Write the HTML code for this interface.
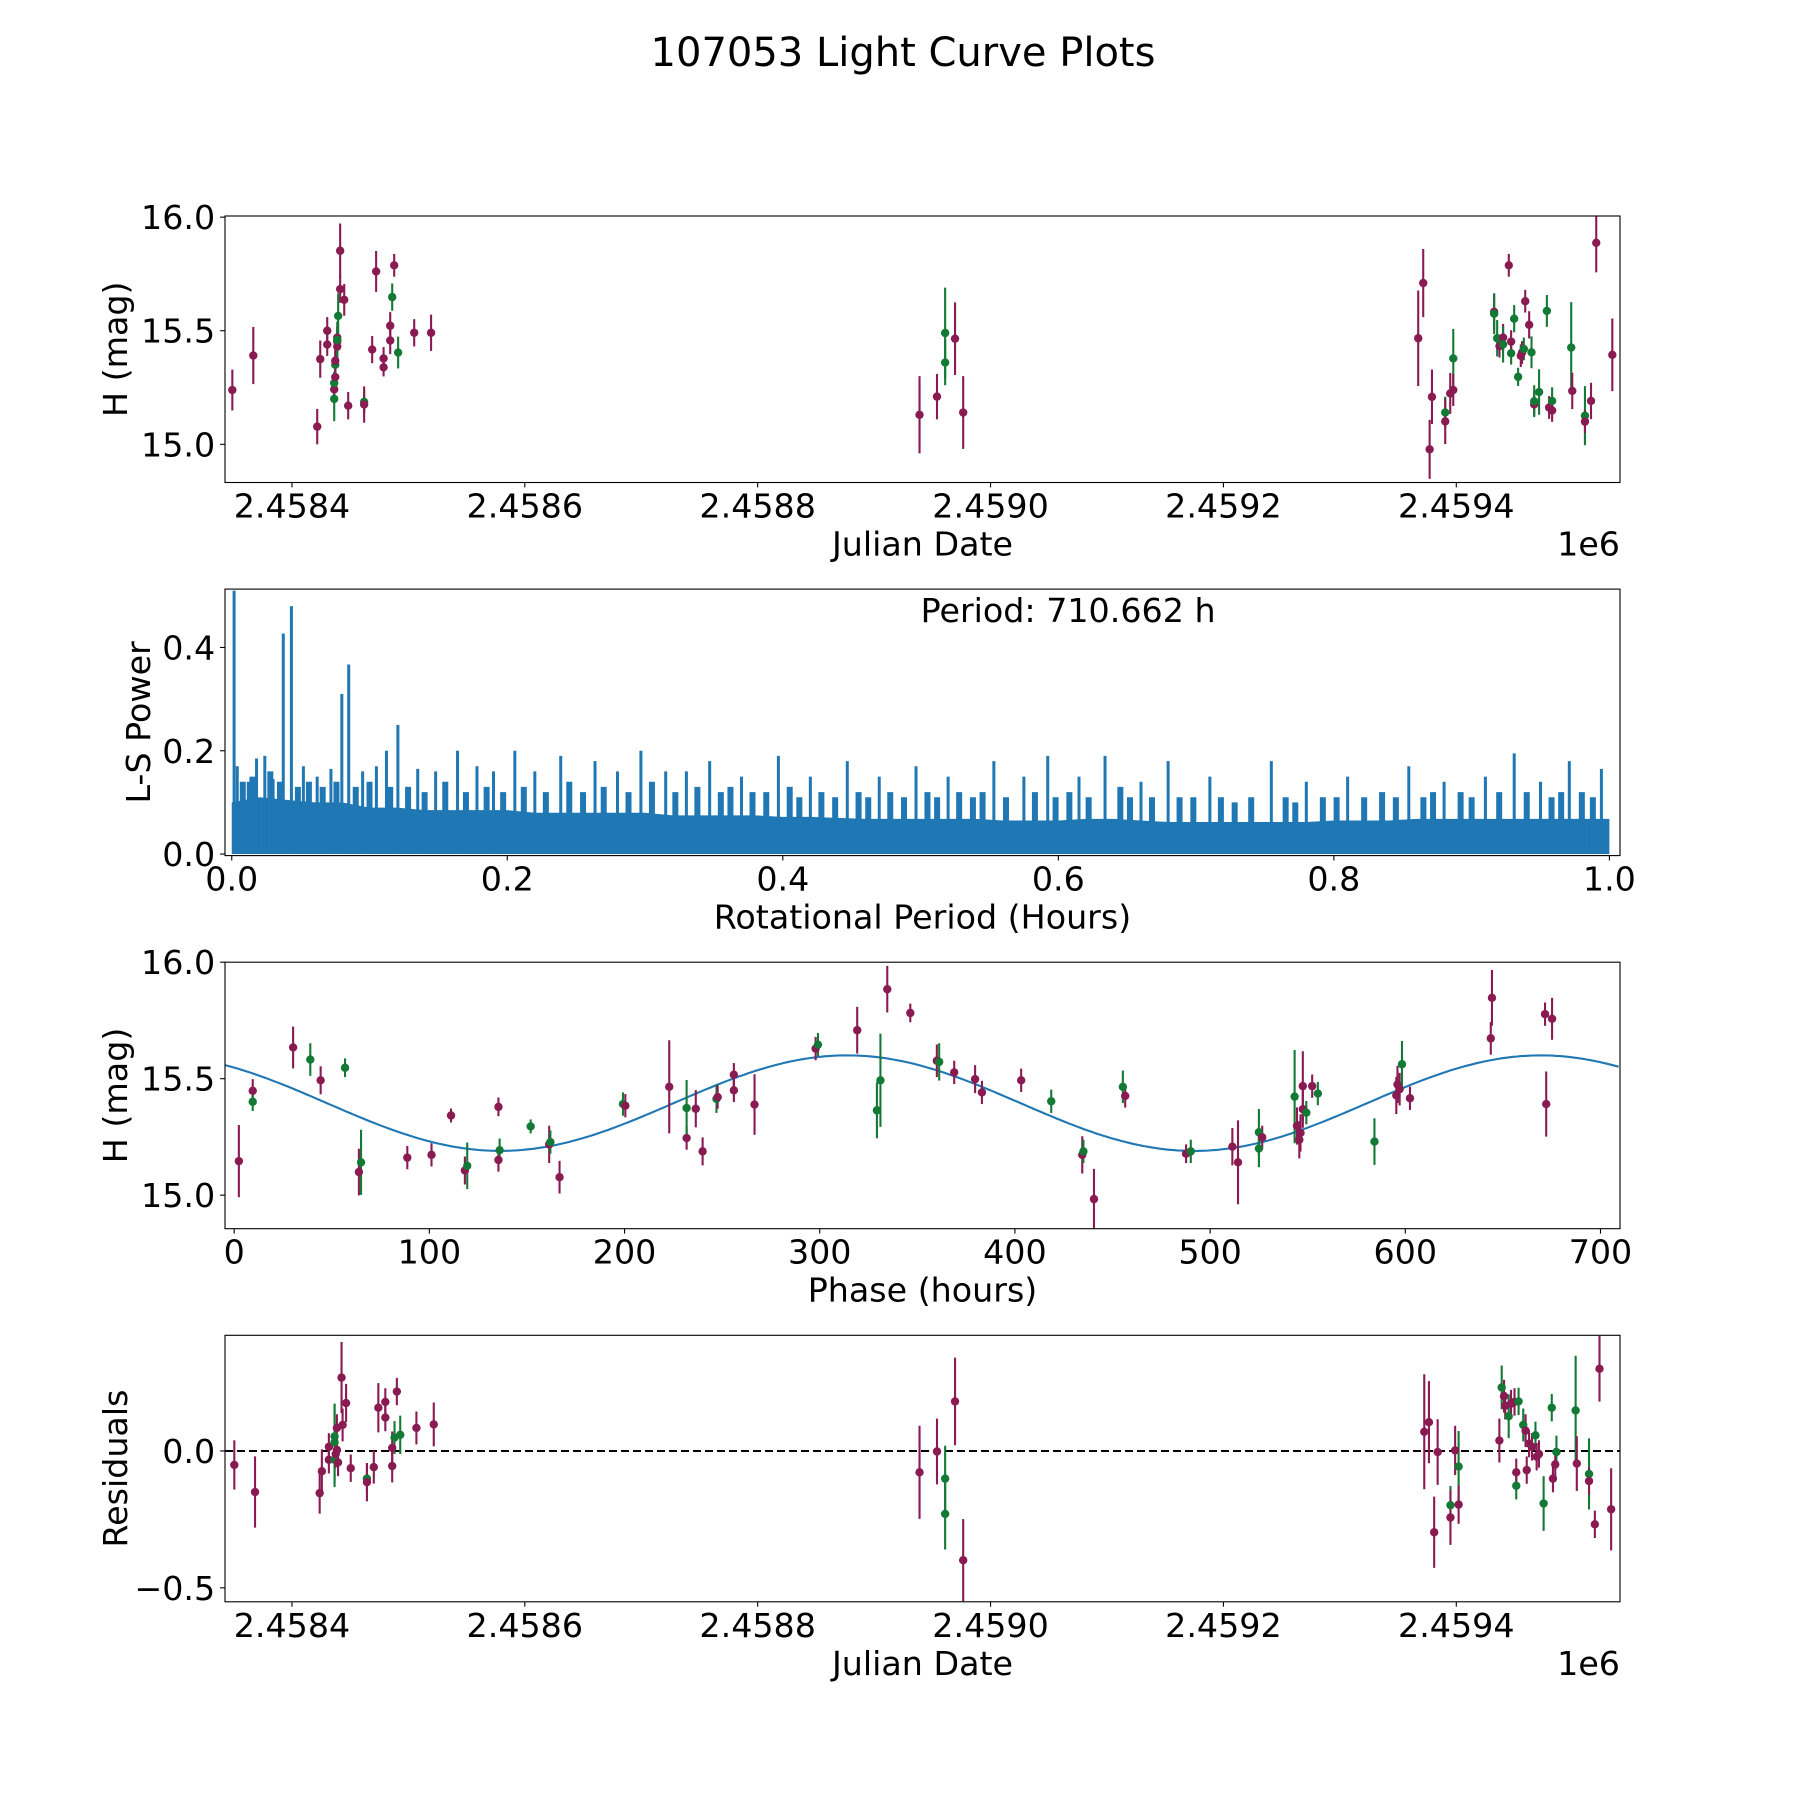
<!DOCTYPE html>
<html><head><meta charset="utf-8"><title>107053 Light Curve Plots</title>
<style>
html,body{margin:0;padding:0;background:#fff;}
svg{display:block;font-family:"DejaVu Sans","Liberation Sans",sans-serif;}
</style></head>
<body>
<svg id="fig" width="1800" height="1800" viewBox="0 0 1800 1800" xmlns="http://www.w3.org/2000/svg">
<rect x="0" y="0" width="1800" height="1800" fill="#fff"/>
<text x="903" y="66" font-size="40" text-anchor="middle">107053 Light Curve Plots</text>
</svg>
<script>
// ---------- Panel 1: light curve vs Julian Date ----------
const jd1 = [2458348.8,2458366.8,2458421.7,2458424.3,2458430.3,2458430.3,2458436.3,2458436.3,2458436.3,2458437.2,2458437.2,2458437.2,2458438.9,2458438.9,2458438.9,2458438.9,2458439.7,2458441.4,2458441.4,2458444.9,2458448.3,2458462,2458462,2458468.9,2458472.3,2458478.7,2458478.7,2458484.4,2458484.4,2458486.1,2458487.8,2458491.2,2458505,2458519.5,
 2458939,2458954,2458961,2458961,2458969.5,2458976.5,
 2459367.3,2459371.6,2459377.1,2459379.1,2459390.5,2459390.5,2459394.8,2459397.4,2459397.4,2459432.5,2459432.5,2459435.1,2459437.1,2459440.2,2459440.2,2459445.1,2459447.1,2459447.1,2459449.7,2459453.1,2459455.4,2459456.5,2459458,2459459.2,2459462.6,2459464.6,2459466.9,2459466.9,2459471.1,2459477.8,2459479.7,2459482.3,2459482.3,2459498.7,2459499.6,2459510.5,2459510.5,2459515.7,2459520.2,2459534];
const mag1 = [15.239,15.391,15.078,15.375,15.5,15.439,15.2,15.242,15.27,15.296,15.35,15.368,15.43,15.452,15.47,15.46,15.565,15.852,15.683,15.636,15.17,15.187,15.175,15.417,15.761,15.339,15.378,15.457,15.522,15.648,15.788,15.404,15.491,15.491,
 15.13,15.21,15.36,15.49,15.465,15.14,
 15.467,15.71,14.978,15.209,15.14,15.101,15.224,15.378,15.239,15.583,15.575,15.467,15.432,15.47,15.44,15.788,15.401,15.452,15.553,15.297,15.39,15.404,15.42,15.63,15.526,15.405,15.176,15.19,15.23,15.587,15.162,15.191,15.149,15.426,15.235,15.126,15.1,15.191,15.887,15.394];
const err1 = [0.09,0.126,0.078,0.082,0.06,0.05,0.098,0.05,0.05,0.05,0.06,0.05,0.05,0.05,0.05,0.08,0.1,0.12,0.06,0.07,0.06,0.05,0.08,0.06,0.09,0.04,0.05,0.06,0.06,0.06,0.05,0.07,0.06,0.08,
 0.17,0.1,0.1,0.2,0.16,0.16,
 0.21,0.15,0.13,0.12,0.07,0.1,0.09,0.13,0.07,0.08,0.09,0.08,0.05,0.06,0.08,0.05,0.05,0.05,0.06,0.04,0.05,0.05,0.05,0.05,0.06,0.07,0.05,0.07,0.1,0.07,0.05,0.06,0.05,0.2,0.08,0.13,0.05,0.08,0.13,0.16];
const flt1 = [0,0,0,0,0,0,1,0,1,0,1,0,0,0,0,1,1,0,0,0,0,1,0,0,0,0,0,0,0,1,0,1,0,0,
 0,0,1,1,0,0,
 0,0,0,0,1,0,0,1,0,0,1,1,0,0,1,0,1,0,1,1,0,0,1,0,0,1,0,1,1,1,0,1,0,1,0,1,0,0,0,0];

// ---------- Panel 2: Lomb-Scargle periodogram ----------
const lsEnvPeriod = [0,0.02,0.04,0.06,0.08,0.10,0.12,0.14,0.16,0.18,0.20,0.22,0.24,0.26,0.28,0.30,0.32,0.34,0.36,0.38,0.40,0.42,0.44,0.46,0.48,0.50,0.52,0.54,0.56,0.58,0.60,0.62,0.64,0.66,0.68,0.70,0.72,0.74,0.76,0.78,0.80,0.82,0.84,0.86,0.88,0.90,0.92,0.94,0.96,0.98,1.00];
const lsEnvPower = [0.1,0.11,0.105,0.1,0.1,0.09,0.09,0.085,0.085,0.085,0.085,0.08,0.08,0.08,0.08,0.08,0.075,0.075,0.075,0.075,0.072,0.072,0.07,0.068,0.068,0.068,0.068,0.068,0.065,0.065,0.065,0.068,0.068,0.065,0.062,0.062,0.062,0.062,0.062,0.062,0.065,0.065,0.065,0.068,0.068,0.068,0.068,0.068,0.068,0.068,0.068];
const spikePeriod = [0.0017,0.004,0.012,0.018,0.024,0.03,0.0374,0.0433,0.052,0.062,0.072,0.0799,0.0849,0.095,0.105,0.1123,0.1206,0.135,0.148,0.1639,0.178,0.19,0.2055,0.22,0.2388,0.2637,0.28,0.297,0.315,0.33,0.3469,0.37,0.3968,0.42,0.4468,0.47,0.4967,0.52,0.5532,0.575,0.5923,0.615,0.6339,0.66,0.6797,0.71,0.7546,0.78,0.81,0.8544,0.88,0.91,0.9309,0.95,0.9709,0.9942];
const spikePower = [0.51,0.17,0.14,0.185,0.19,0.145,0.427,0.48,0.17,0.15,0.165,0.31,0.367,0.16,0.17,0.2,0.25,0.165,0.16,0.2,0.17,0.16,0.2,0.16,0.19,0.18,0.16,0.2,0.16,0.16,0.18,0.15,0.19,0.15,0.18,0.15,0.17,0.15,0.18,0.15,0.19,0.15,0.19,0.14,0.18,0.15,0.18,0.14,0.15,0.17,0.14,0.15,0.195,0.14,0.18,0.165];
const midPeriod = [0.008,0.015,0.028,0.035,0.048,0.056,0.066,0.076,0.09,0.1,0.115,0.128,0.14,0.155,0.17,0.185,0.197,0.212,0.228,0.245,0.255,0.27,0.288,0.305,0.322,0.338,0.355,0.362,0.378,0.388,0.405,0.412,0.428,0.438,0.455,0.462,0.478,0.488,0.505,0.512,0.528,0.538,0.545,0.562,0.583,0.598,0.608,0.622,0.645,0.652,0.668,0.688,0.698,0.718,0.728,0.74,0.765,0.772,0.792,0.802,0.822,0.835,0.845,0.865,0.872,0.892,0.9,0.92,0.94,0.958,0.965,0.98,0.988];
const midPower = [0.14,0.15,0.16,0.14,0.13,0.14,0.13,0.14,0.13,0.14,0.13,0.13,0.12,0.14,0.12,0.13,0.12,0.13,0.12,0.14,0.12,0.13,0.12,0.14,0.12,0.13,0.12,0.13,0.12,0.12,0.13,0.11,0.12,0.11,0.12,0.11,0.12,0.11,0.12,0.11,0.12,0.11,0.12,0.11,0.12,0.11,0.12,0.11,0.13,0.11,0.11,0.11,0.11,0.11,0.1,0.11,0.11,0.1,0.11,0.11,0.11,0.12,0.11,0.11,0.12,0.12,0.11,0.12,0.12,0.11,0.12,0.12,0.11];
const periodText = "Period: 710.662 h";

// ---------- Panel 3: phase-folded ----------
const phase3 = [2.4,9.5,9.5,30.2,39,44.3,56.8,63.9,65,88.7,101.1,111.1,118.2,119.4,135.4,135.4,136,151.9,161.4,162,166.7,199.2,200.4,222.9,231.8,231.8,236.5,240,247.1,247.7,256,256,266.6,297.9,299.1,319.2,329.3,331.1,334.6,346.4,360,361.2,368.9,379.6,383.1,403.2,418.6,434.5,435.1,440.5,455.3,456.5,487.7,490.1,511.4,514.3,525,525,526.7,543.3,544.5,545.7,546.3,547.5,547.5,549.3,552.3,555.2,584.2,595.4,596,597.1,598.3,602.4,643.8,644.4,671.6,672.2,675.2];
const mag3 = [15.146,15.448,15.401,15.634,15.582,15.493,15.547,15.099,15.141,15.161,15.173,15.342,15.106,15.126,15.379,15.151,15.193,15.295,15.218,15.228,15.077,15.391,15.384,15.465,15.245,15.374,15.371,15.188,15.413,15.421,15.45,15.517,15.389,15.629,15.646,15.708,15.364,15.493,15.884,15.782,15.577,15.572,15.527,15.498,15.441,15.493,15.403,15.173,15.188,14.983,15.465,15.426,15.178,15.188,15.208,15.141,15.2,15.27,15.248,15.423,15.297,15.238,15.267,15.468,15.369,15.354,15.468,15.436,15.23,15.428,15.475,15.455,15.562,15.416,15.673,15.847,15.777,15.391,15.757];
const err3 = [0.155,0.05,0.04,0.09,0.07,0.06,0.04,0.1,0.14,0.05,0.05,0.03,0.06,0.1,0.04,0.05,0.05,0.03,0.08,0.05,0.07,0.05,0.05,0.2,0.05,0.12,0.08,0.06,0.06,0.05,0.05,0.05,0.13,0.05,0.05,0.1,0.12,0.2,0.1,0.04,0.07,0.08,0.05,0.06,0.05,0.05,0.05,0.08,0.05,0.13,0.07,0.05,0.04,0.05,0.08,0.18,0.08,0.1,0.05,0.2,0.08,0.08,0.08,0.15,0.08,0.05,0.05,0.05,0.1,0.08,0.08,0.07,0.1,0.05,0.07,0.12,0.05,0.14,0.09];
const flt3 = [0,0,1,0,1,0,1,0,1,0,0,0,0,1,0,0,1,1,0,1,0,1,0,0,0,1,0,0,1,0,0,0,0,0,1,0,1,1,0,0,0,1,0,0,0,0,1,0,1,0,1,0,0,1,0,0,1,1,0,1,0,0,0,0,0,1,0,1,1,0,0,0,1,0,0,0,0,0,0];
const fitMean = 15.395, fitAmp = 0.205, fitPeak = 314, fitPeriod = 355.33;

// ---------- Panel 4: residuals ----------
const jd4 = [2458350.5,2458368.3,2458423.8,2458425.7,2458431.7,2458431.7,2458436.6,2458436.6,2458436.6,2458437.6,2458438.6,2458438.6,2458439.6,2458442.6,2458443.5,2458446.5,2458450.5,2458464.4,2458464.4,2458470.3,2458474.2,2458480.2,2458480.2,2458486.1,2458486.1,2458488.1,2458490.1,2458493,2458506.9,2458521.8,
 2458939,2458954,2458961,2458961,2458969.5,2458976.5,
 2459372.5,2459376.5,2459381,2459384,2459395,2459395,2459399,2459402,2459402,2459437,2459439,2459441,2459442,2459445,2459447,2459450,2459451.5,2459451.5,2459453.5,2459457.5,2459459.5,2459460.5,2459462.5,2459465,2459468,2459469,2459471,2459475,2459483,2459482,2459486,2459485,2459502.5,2459503.5,2459514,2459514,2459519,2459523,2459533];
const res4 = [-0.051,-0.15,-0.154,-0.074,0.015,-0.032,-0.032,0.032,0.053,-0.011,0.084,0.004,-0.042,0.268,0.095,0.175,-0.063,-0.101,-0.114,-0.059,0.158,0.179,0.122,0.011,-0.055,0.049,0.217,0.059,0.084,0.097,
 -0.078,-0.002,-0.101,-0.23,0.181,-0.399,
 0.07,0.105,-0.297,-0.004,-0.198,-0.243,0.002,-0.057,-0.196,0.038,0.232,0.2,0.165,0.127,0.173,0.179,-0.127,-0.078,0.181,0.095,0.074,-0.07,0.027,0.015,0.057,-0.021,-0.011,-0.192,-0.101,0.158,-0.004,-0.049,0.148,-0.046,-0.084,-0.11,-0.268,0.3,-0.213];
const err4 = [0.09,0.13,0.075,0.08,0.05,0.05,0.1,0.14,0.12,0.05,0.05,0.05,0.05,0.13,0.06,0.07,0.05,0.05,0.07,0.06,0.09,0.05,0.05,0.06,0.06,0.06,0.05,0.07,0.06,0.08,
 0.17,0.12,0.12,0.13,0.16,0.15,
 0.21,0.15,0.13,0.12,0.07,0.1,0.09,0.13,0.07,0.08,0.08,0.06,0.05,0.08,0.05,0.05,0.05,0.05,0.05,0.06,0.06,0.05,0.05,0.05,0.05,0.05,0.05,0.1,0.05,0.05,0.06,0.06,0.2,0.1,0.13,0.05,0.05,0.12,0.15];
const flt4 = [0,0,0,0,0,0,1,1,1,0,0,0,0,0,0,0,0,1,0,0,0,0,0,0,0,1,0,1,0,0,
 0,0,1,1,0,0,
 0,0,0,0,1,0,0,1,0,0,1,0,0,1,0,0,1,0,1,1,0,0,0,0,1,0,0,1,0,1,1,0,1,0,1,0,0,0,0];

const jdTicks = [2458400,2458600,2458800,2459000,2459200,2459400];
const jdTickLabels = ["2.4584","2.4586","2.4588","2.4590","2.4592","2.4594"];
const magTicks = [15.0,15.5,16.0];
const magTickLabels = ["15.0","15.5","16.0"];
const lsYTicks = [0,0.2,0.4];
const lsYTickLabels = ["0.0","0.2","0.4"];
const lsXTicks = [0,0.2,0.4,0.6,0.8,1.0];
const lsXTickLabels = ["0.0","0.2","0.4","0.6","0.8","1.0"];
const phaseTicks = [0,100,200,300,400,500,600,700];
const phaseTickLabels = ["0","100","200","300","400","500","600","700"];
const resTicks = [-0.5,0.0];
const resTickLabels = ["\u22120.5","0.0"];

const NS = "http://www.w3.org/2000/svg";
const svg = document.getElementById('fig');
const MAG = "#8a1a52", GRN = "#137a35", BLUE = "#1f77b4";
const X0 = 225, X1 = 1620, H = 266.5, FS = 33.3;
function tops(k){ return 216 + k*373.1; }
function el(tag, attrs, parent){ const e = document.createElementNS(NS, tag); for (const k in attrs) e.setAttribute(k, attrs[k]); (parent||svg).appendChild(e); return e; }
function lin(d0,d1,r0,r1){ return v => r0 + (v-d0)/(d1-d0)*(r1-r0); }

function makeAxes(k, name, xd, yd){
  const top = tops(k), bot = top + H;
  const g = el('g', {});
  
  
  const cp = el('clipPath', {id: 'clip'+k}, g);
  el('rect', {x:X0, y:top, width:X1-X0, height:H}, cp);
  const plot = el('g', {'clip-path':'url(#clip'+k+')'}, g);
  
  
  return {g, plot, top, bot, sx: lin(xd[0],xd[1],X0,X1), sy: lin(yd[0],yd[1],bot,top)};
}
function frame(ax, k){
  const r = el('rect', {x:X0, y:ax.top, width:X1-X0, height:H, fill:'none', stroke:'#000', 'stroke-width':1.1}, ax.g);
  
  
}
function xTicks(ax, vals, labels, name){
  vals.forEach((v,i) => {
    const x = ax.sx(v);
    const t = el('line', {x1:x, x2:x, y1:ax.bot, y2:ax.bot+4.9, stroke:'#000', 'stroke-width':1.1}, ax.g);
    
    
    const tx = el('text', {x:x, y:ax.bot+35, 'font-size':FS, 'text-anchor':'middle'}, ax.g);
    tx.textContent = labels[i];
    
    
  });
}
function yTicks(ax, vals, labels, name){
  vals.forEach((v,i) => {
    const y = ax.sy(v);
    const t = el('line', {x1:X0-4.9, x2:X0, y1:y, y2:y, stroke:'#000', 'stroke-width':1.1}, ax.g);
    
    
    const tx = el('text', {x:X0-9.8, y:y+12, 'font-size':FS, 'text-anchor':'end'}, ax.g);
    tx.textContent = labels[i];
    
    
  });
}
function xLabel(ax, txt, name){
  const t = el('text', {x:(X0+X1)/2, y:ax.bot+73, 'font-size':FS, 'text-anchor':'middle'}, ax.g);
  t.textContent = txt;
  
  
}
function yLabel(ax, txt, bx, name){
  const cy = (ax.top+ax.bot)/2;
  const t = el('text', {x:bx, y:cy, 'font-size':FS, 'text-anchor':'middle', transform:'rotate(-90 '+bx+' '+cy+')'}, ax.g);
  t.textContent = txt;
  
  
}
function offsetText(ax, name){
  const t = el('text', {x:X1, y:ax.bot+73, 'font-size':FS, 'text-anchor':'end'}, ax.g);
  t.textContent = '1e6';
  
  
}
function errPoints(ax, xs, ys, es, fs, name){
  xs.forEach((xv,i) => {
    const x = ax.sx(xv), c = fs[i] ? GRN : MAG;
    const l = el('line', {x1:x, x2:x, y1:ax.sy(ys[i]-es[i]), y2:ax.sy(ys[i]+es[i]), stroke:c, 'stroke-width':2.1}, ax.plot);
    
    
  });
  xs.forEach((xv,i) => {
    const c = fs[i] ? GRN : MAG;
    const p = el('circle', {cx:ax.sx(xv), cy:ax.sy(ys[i]), r:4.2, fill:c}, ax.plot);
    
    
  });
}

// Panel 1
const a1 = makeAxes(0, 'light-curve-panel', [2458342.5, 2459540.6], [14.832, 16.005]);
errPoints(a1, jd1, mag1, err1, flt1, 'observation');
frame(a1, 0);
xTicks(a1, jdTicks, jdTickLabels, 'julian-date-x');
yTicks(a1, magTicks, magTickLabels, 'magnitude-y');
xLabel(a1, 'Julian Date', 'x-axis-title-julian-date');
offsetText(a1, 'x-axis-offset-1e6');
yLabel(a1, 'H (mag)', 127, 'y-axis-title-h-mag');

// Panel 2
const a2 = makeAxes(1, 'periodogram-panel', [-0.0049, 1.0077], [-0.003, 0.513]);
{
  let d = 'M' + a2.sx(lsEnvPeriod[0]) + ',' + a2.sy(0);
  lsEnvPeriod.forEach((p,i) => { d += ' L' + a2.sx(p) + ',' + a2.sy(lsEnvPower[i]); });
  d += ' L' + a2.sx(lsEnvPeriod[lsEnvPeriod.length-1]) + ',' + a2.sy(0) + ' Z';
  const area = el('path', {d:d, fill:BLUE}, a2.plot);
  
  
  midPeriod.forEach((p,i) => {
    const x = a2.sx(p);
    const s = el('line', {x1:x, x2:x, y1:a2.sy(0), y2:a2.sy(midPower[i]), stroke:BLUE, 'stroke-width':6}, a2.plot);
    
    
  });
  spikePeriod.forEach((p,i) => {
    const x = a2.sx(p);
    const s = el('line', {x1:x, x2:x, y1:a2.sy(0), y2:a2.sy(spikePower[i]), stroke:BLUE, 'stroke-width':3}, a2.plot);
    
    
  });
}
frame(a2, 1);
xTicks(a2, lsXTicks, lsXTickLabels, 'period-x');
yTicks(a2, lsYTicks, lsYTickLabels, 'power-y');
xLabel(a2, 'Rotational Period (Hours)', 'x-axis-title-rotational-period');
yLabel(a2, 'L-S Power', 150, 'y-axis-title-ls-power');
{
  const t = el('text', {x:a2.sx(0.5), y:a2.top+33, 'font-size':FS}, a2.g);
  t.textContent = periodText;
  
  
}

// Panel 3
const a3 = makeAxes(2, 'phase-folded-panel', [-4.7, 710.0], [14.856, 16.0]);
{
  const pts = [];
  for (let ph = -4.7; ph <= 710.7; ph += 2) pts.push(a3.sx(ph).toFixed(1) + ',' + a3.sy(fitMean + fitAmp*Math.cos(2*Math.PI*(ph-fitPeak)/fitPeriod)).toFixed(1));
  const fl = el('polyline', {points:pts.join(' '), fill:'none', stroke:BLUE, 'stroke-width':2.1}, a3.plot);
  
  
}
errPoints(a3, phase3, mag3, err3, flt3, 'phased-observation');
frame(a3, 2);
xTicks(a3, phaseTicks, phaseTickLabels, 'phase-x');
yTicks(a3, magTicks, magTickLabels, 'magnitude-y');
xLabel(a3, 'Phase (hours)', 'x-axis-title-phase');
yLabel(a3, 'H (mag)', 127, 'y-axis-title-h-mag-phase');

// Panel 4
const a4 = makeAxes(3, 'residuals-panel', [2458342.5, 2459540.6], [-0.551, 0.4225]);
{
  const z = el('line', {x1:X0, x2:X1, y1:a4.sy(0), y2:a4.sy(0), stroke:'#000', 'stroke-width':2, 'stroke-dasharray':'8,4'}, a4.plot);
  
  
}
errPoints(a4, jd4, res4, err4, flt4, 'residual');
frame(a4, 3);
xTicks(a4, jdTicks, jdTickLabels, 'julian-date-x');
yTicks(a4, resTicks, resTickLabels, 'residual-y');
xLabel(a4, 'Julian Date', 'x-axis-title-julian-date-residuals');
offsetText(a4, 'x-axis-offset-1e6-residuals');
yLabel(a4, 'Residuals', 127, 'y-axis-title-residuals');
</script>
</body></html>
